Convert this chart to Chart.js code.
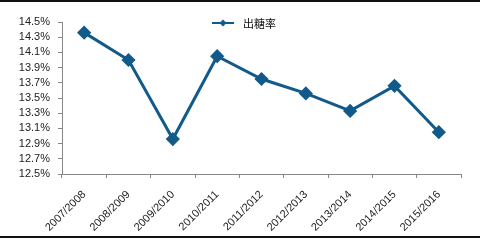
<!DOCTYPE html>
<html>
<head>
<meta charset="utf-8">
<script src="https://cdn.jsdelivr.net/npm/chart.js@4"></script>
<style>
    body { margin: 0; background: #fff; }
    #wrap { position: relative; width: 488px; height: 245px; }
</style>
</head>
<body>
<div id="wrap"><canvas id="myChart"></canvas></div>
<script>
const seasons = ['2007/2008', '2008/2009', '2009/2010', '2010/2011', '2011/2012', '2012/2013', '2013/2014', '2014/2015', '2015/2016'];
const sugarRate = [14.36, 14.0, 12.96, 14.05, 13.75, 13.56, 13.33, 13.66, 13.05];
const seriesName = '出糖率';
const yMin = 12.5;
const yMax = 14.5;
const yStep = 0.2;

const LINE_COLOR = '#115a8a';
const AXIS_COLOR = '#878787';
const TEXT_FONT = { family: '"Liberation Sans", Arial, sans-serif', size: 11 };

// frame lines + legend drawn inside the plot
const decorPlugin = {
    id: 'decor',
    afterDraw(chart) {
        const ctx = chart.ctx;
        ctx.save();
        ctx.strokeStyle = '#111';
        ctx.lineWidth = 2;
        ctx.beginPath();
        ctx.moveTo(0, 1); ctx.lineTo(480, 1);
        ctx.moveTo(0, 237); ctx.lineTo(480, 237);
        ctx.stroke();

        // legend
        const y = 23;
        ctx.strokeStyle = LINE_COLOR;
        ctx.lineWidth = 2;
        ctx.beginPath();
        ctx.moveTo(212, y); ctx.lineTo(234, y);
        ctx.stroke();
        ctx.fillStyle = LINE_COLOR;
        ctx.beginPath();
        ctx.moveTo(223, y - 3.5); ctx.lineTo(226.5, y); ctx.lineTo(223, y + 3.5); ctx.lineTo(219.5, y);
        ctx.closePath();
        ctx.fill();
        ctx.fillStyle = '#111';
        ctx.font = '11px "Noto Sans CJK SC", sans-serif';
        ctx.textBaseline = 'middle';
        ctx.fillText(seriesName, 243, y + 1);
        ctx.restore();
    }
};

const ctx = document.getElementById('myChart');
const myChart = new Chart(ctx, {
    type: 'line',
    data: {
        labels: seasons,
        datasets: [{
            label: seriesName,
            data: sugarRate,
            borderColor: LINE_COLOR,
            backgroundColor: LINE_COLOR,
            borderWidth: 3,
            pointStyle: 'rectRot',
            pointRadius: 5,
            pointHoverRadius: 5,
            tension: 0
        }]
    },
    options: {
        responsive: true,
        maintainAspectRatio: false,
        animation: false,
        layout: {
            padding: { top: 22, right: 27, bottom: 0, left: 0 }
        },
        plugins: {
            legend: { display: false },
            tooltip: { enabled: false }
        },
        scales: {
            x: {
                offset: true,
                grid: {
                    offset: true,
                    drawOnChartArea: false,
                    tickLength: 4,
                    color: AXIS_COLOR
                },
                border: { color: AXIS_COLOR, width: 1 },
                ticks: {
                    autoSkip: false,
                    maxRotation: 45,
                    minRotation: 45,
                    padding: 10,
                    color: '#222',
                    font: TEXT_FONT
                },
                afterFit(scale) { scale.height = 71; }
            },
            y: {
                min: yMin,
                max: yMax,
                grid: {
                    drawOnChartArea: false,
                    tickLength: 4,
                    color: AXIS_COLOR
                },
                border: { color: AXIS_COLOR, width: 1 },
                ticks: {
                    autoSkip: false,
                    stepSize: yStep,
                    padding: 8,
                    color: '#222',
                    font: TEXT_FONT,
                    callback: (v) => v.toFixed(1) + '%'
                },
                afterFit(scale) { scale.width = 62; }
            }
        }
    },
    plugins: [decorPlugin]
});
</script>
</body>
</html>
